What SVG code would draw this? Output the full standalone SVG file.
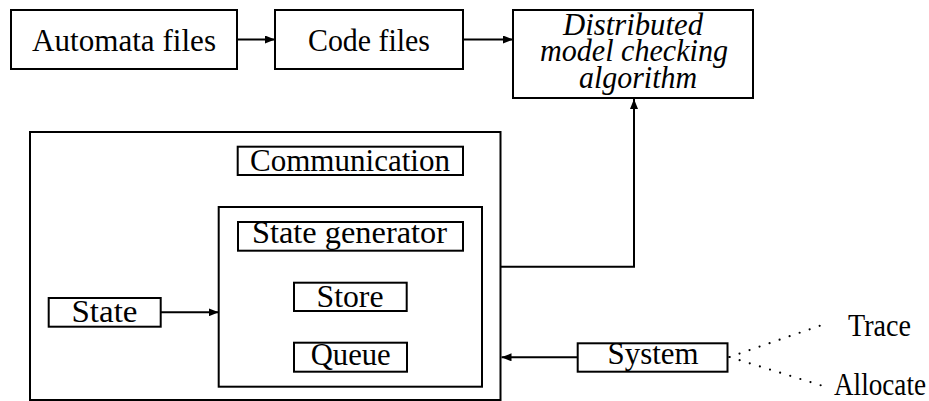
<svg xmlns="http://www.w3.org/2000/svg" width="929" height="401" viewBox="0 0 929 401">
  <style>
    .box { fill: #fff; stroke: #000; stroke-width: 2; }
    .frame { fill: none; stroke: #000; stroke-width: 2; }
    .lbl { font-family: "Liberation Serif", "Times New Roman", serif; font-size: 31px; fill: #000; text-anchor: middle; }
    .it { font-style: italic; }
    .edge { fill: none; stroke: #000; stroke-width: 2; }
    .dots { fill: none; stroke: #000; stroke-width: 2.2; stroke-linecap: round; stroke-dasharray: 0 10.6; }
  </style>
  <defs>
    <marker id="arrow" viewBox="0 0 10 8" refX="10" refY="4" markerWidth="10" markerHeight="8" markerUnits="userSpaceOnUse" orient="auto">
      <path d="M0,0 L10,4 L0,8 Z" fill="#000"/>
    </marker>
  </defs>

  <rect width="929" height="401" fill="#fff"/>

  <!-- enclosing frames -->
  <g id="process">
    <rect class="frame" x="30" y="132" width="470.5" height="268"/>
  </g>
  <g id="worker">
    <rect class="frame" x="218.7" y="207" width="263.3" height="179.7"/>
  </g>

  <!-- nodes -->
  <g id="automata">
    <rect class="box" x="11" y="10" width="226" height="59"/>
    <text class="lbl" x="124" y="51" textLength="184" lengthAdjust="spacingAndGlyphs">Automata files</text>
  </g>
  <g id="code">
    <rect class="box" x="275" y="10" width="188" height="59"/>
    <text class="lbl" x="369" y="51" textLength="122" lengthAdjust="spacingAndGlyphs">Code files</text>
  </g>
  <g id="algorithm">
    <rect class="box" x="513" y="10" width="240" height="88"/>
    <text class="lbl it" x="633" y="35" textLength="140" lengthAdjust="spacingAndGlyphs">Distributed</text>
    <text class="lbl it" x="634" y="61" textLength="188" lengthAdjust="spacingAndGlyphs">model checking</text>
    <text class="lbl it" x="638" y="88" textLength="118" lengthAdjust="spacingAndGlyphs">algorithm</text>
  </g>
  <g id="communication">
    <rect class="box" x="237.7" y="146.7" width="225.3" height="28.3"/>
    <text class="lbl" x="350" y="170.7" textLength="200" lengthAdjust="spacingAndGlyphs">Communication</text>
  </g>
  <g id="generator">
    <rect class="box" x="238" y="222" width="225" height="28.7"/>
    <text class="lbl" x="349.5" y="242.7" textLength="195" lengthAdjust="spacingAndGlyphs">State generator</text>
  </g>
  <g id="store">
    <rect class="box" x="294" y="282.7" width="112.7" height="28.3"/>
    <text class="lbl" x="350" y="306.7" textLength="67" lengthAdjust="spacingAndGlyphs">Store</text>
  </g>
  <g id="queue">
    <rect class="box" x="294" y="342.7" width="113" height="29"/>
    <text class="lbl" x="350.7" y="365" textLength="80" lengthAdjust="spacingAndGlyphs">Queue</text>
  </g>
  <g id="state">
    <rect class="box" x="48.7" y="298" width="112" height="28.7"/>
    <text class="lbl" x="104.5" y="321.7" textLength="66" lengthAdjust="spacingAndGlyphs">State</text>
  </g>
  <g id="system">
    <rect class="box" x="577.7" y="343.3" width="149.8" height="28.4"/>
    <text class="lbl" x="653" y="364" textLength="91" lengthAdjust="spacingAndGlyphs">System</text>
  </g>
  <g id="trace">
    <text class="lbl" x="879.5" y="336" textLength="63" lengthAdjust="spacingAndGlyphs">Trace</text>
  </g>
  <g id="allocate">
    <text class="lbl" x="880" y="395" textLength="92" lengthAdjust="spacingAndGlyphs">Allocate</text>
  </g>

  <!-- connectors -->
  <g id="connectors">
    <line class="edge" x1="237" y1="39.5" x2="275" y2="39.5" marker-end="url(#arrow)"/>
    <line class="edge" x1="463" y1="39.5" x2="513" y2="39.5" marker-end="url(#arrow)"/>
    <polyline class="edge" points="500.5,266.7 634,266.7 634,99" marker-end="url(#arrow)"/>
    <line class="edge" x1="160.7" y1="312.3" x2="218.7" y2="312.3" marker-end="url(#arrow)"/>
    <line class="edge" x1="577.7" y1="357.3" x2="501.5" y2="357.3" marker-end="url(#arrow)"/>
    <line class="dots" x1="729.5" y1="357" x2="822" y2="325"/>
    <line class="dots" x1="729.5" y1="357" x2="823" y2="386"/>
  </g>
</svg>
